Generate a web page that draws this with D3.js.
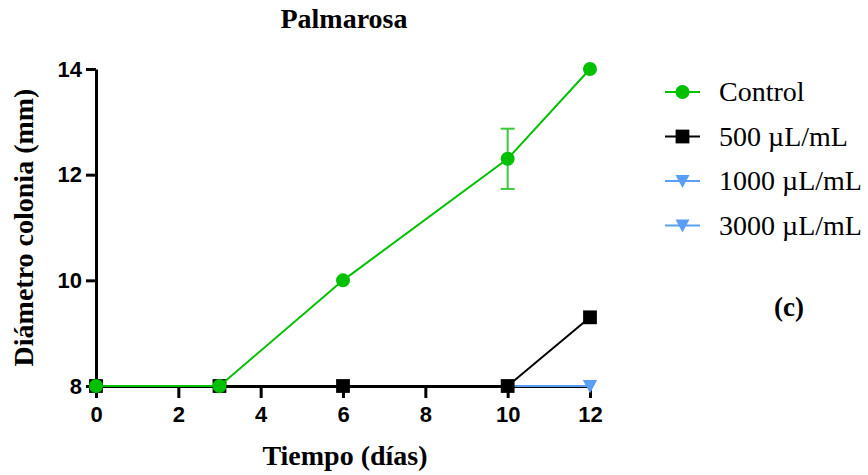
<!DOCTYPE html>
<html lang="es">
<head>
<meta charset="UTF-8">
<title>Palmarosa</title>
<style>
    body { margin: 0; background: #fff; }
    .axis path, .axis line { stroke: #000; stroke-width: 3; }
    .axis text { font-family: "Liberation Sans", Arial, sans-serif; font-weight: bold; font-size: 22px; fill: #000; }
    .serif { font-family: "Liberation Serif", "Times New Roman", serif; fill: #000; }
</style>
</head>
<body>
<script src="https://d3js.org/d3.v7.min.js"></script>
<script>
    // data
    const days = [0, 3, 6, 10, 12];
    const control = [8, 8, 10, 12.3, 14];
    const controlErr = [0, 0, 0, 0.57, 0];
    const c500 = [8, 8, 8, 8, 9.3];
    const c1000 = [8, 8, 8, 8, 8];
    const c3000 = [8, 8, 8, 8, 8];
    const xTicks = [0, 2, 4, 6, 8, 10, 12];
    const yTicks = [8, 10, 12, 14];

    const series = [
        { name: '3000 µL/mL', values: c3000, color: '#5a9ef5', symbol: 'tri' },
        { name: '1000 µL/mL', values: c1000, color: '#5a9ef5', symbol: 'tri' },
        { name: '500 µL/mL', values: c500, color: '#000000', symbol: 'square' },
        { name: 'Control', values: control, err: controlErr, color: '#00c000', symbol: 'circle' }
    ];

    const width = 868, height = 475;
    const svg = d3.select('body').append('svg')
        .attr('width', width)
        .attr('height', height);

    const x = d3.scaleLinear().domain([0, 12]).range([96, 590]);
    const y = d3.scaleLinear().domain([8, 14]).range([386, 69]);

    // axes
    svg.append('g')
        .attr('class', 'axis')
        .attr('transform', `translate(0,${y(8)})`)
        .call(d3.axisBottom(x).tickValues(xTicks).tickFormat(d3.format('d'))
            .tickSize(12).tickSizeOuter(0).tickPadding(8));

    svg.append('g')
        .attr('class', 'axis')
        .attr('transform', `translate(${x(0)},0)`)
        .call(d3.axisLeft(y).tickValues(yTicks).tickFormat(d3.format('d'))
            .tickSize(10).tickSizeOuter(0).tickPadding(4));

    const line = d3.line()
        .x((d, i) => x(days[i]))
        .y(d => y(d));

    const symbolPath = (s) => {
        if (s === 'circle') return d3.symbol(d3.symbolCircle, 154)();
        if (s === 'square') return d3.symbol(d3.symbolSquare, 190)();
        // downward triangle
        return 'M-7,-6L7,-6L0,7Z';
    };

    series.forEach(s => {
        const g = svg.append('g');
        g.append('path')
            .datum(s.values)
            .attr('d', line)
            .attr('fill', 'none')
            .attr('stroke', s.color)
            .attr('stroke-width', 2);

        if (s.err) {
            const eb = s.values.map((v, i) => ({ x: days[i], v: v, e: s.err[i] })).filter(d => d.e > 0);
            eb.forEach(d => {
                g.append('line')
                    .attr('x1', x(d.x)).attr('x2', x(d.x))
                    .attr('y1', y(d.v + d.e)).attr('y2', y(d.v - d.e))
                    .attr('stroke', '#3cc83c').attr('stroke-width', 2);
                [d.v + d.e, d.v - d.e].forEach(yy => {
                    g.append('line')
                        .attr('x1', x(d.x) - 7).attr('x2', x(d.x) + 7)
                        .attr('y1', y(yy)).attr('y2', y(yy))
                        .attr('stroke', '#3cc83c').attr('stroke-width', 2);
                });
            });
        }

        g.selectAll('.pt')
            .data(s.values)
            .enter()
            .append('path')
            .attr('transform', (d, i) => `translate(${x(days[i])},${y(d)})`)
            .attr('d', symbolPath(s.symbol))
            .attr('fill', s.color);
    });

    // title and axis labels
    svg.append('text')
        .attr('class', 'serif')
        .attr('x', 344).attr('y', 28)
        .attr('text-anchor', 'middle')
        .attr('font-weight', 'bold')
        .attr('font-size', 28)
        .text('Palmarosa');

    svg.append('text')
        .attr('class', 'serif')
        .attr('x', 345).attr('y', 465)
        .attr('text-anchor', 'middle')
        .attr('font-weight', 'bold')
        .attr('font-size', 28)
        .text('Tiempo (días)');

    svg.append('text')
        .attr('class', 'serif')
        .attr('transform', `translate(33,${(69 + 386) / 2}) rotate(-90)`)
        .attr('text-anchor', 'middle')
        .attr('font-weight', 'bold')
        .attr('font-size', 28)
        .text('Diámetro colonia (mm)');

    // legend
    const legend = svg.append('g');
    const legendItems = series.slice().reverse();
    legendItems.forEach((s, i) => {
        const ly = 92 + i * 44.5;
        legend.append('line')
            .attr('x1', 665).attr('x2', 700)
            .attr('y1', ly).attr('y2', ly)
            .attr('stroke', s.color).attr('stroke-width', 2);
        legend.append('path')
            .attr('transform', `translate(682.5,${ly})`)
            .attr('d', symbolPath(s.symbol))
            .attr('fill', s.color);
        legend.append('text')
            .attr('class', 'serif')
            .attr('x', 719).attr('y', ly + 9)
            .attr('font-size', 28)
            .text(s.name);
    });

    svg.append('text')
        .attr('class', 'serif')
        .attr('x', 789).attr('y', 316)
        .attr('text-anchor', 'middle')
        .attr('font-weight', 'bold')
        .attr('font-size', 27)
        .text('(c)');
</script>
</body>
</html>
